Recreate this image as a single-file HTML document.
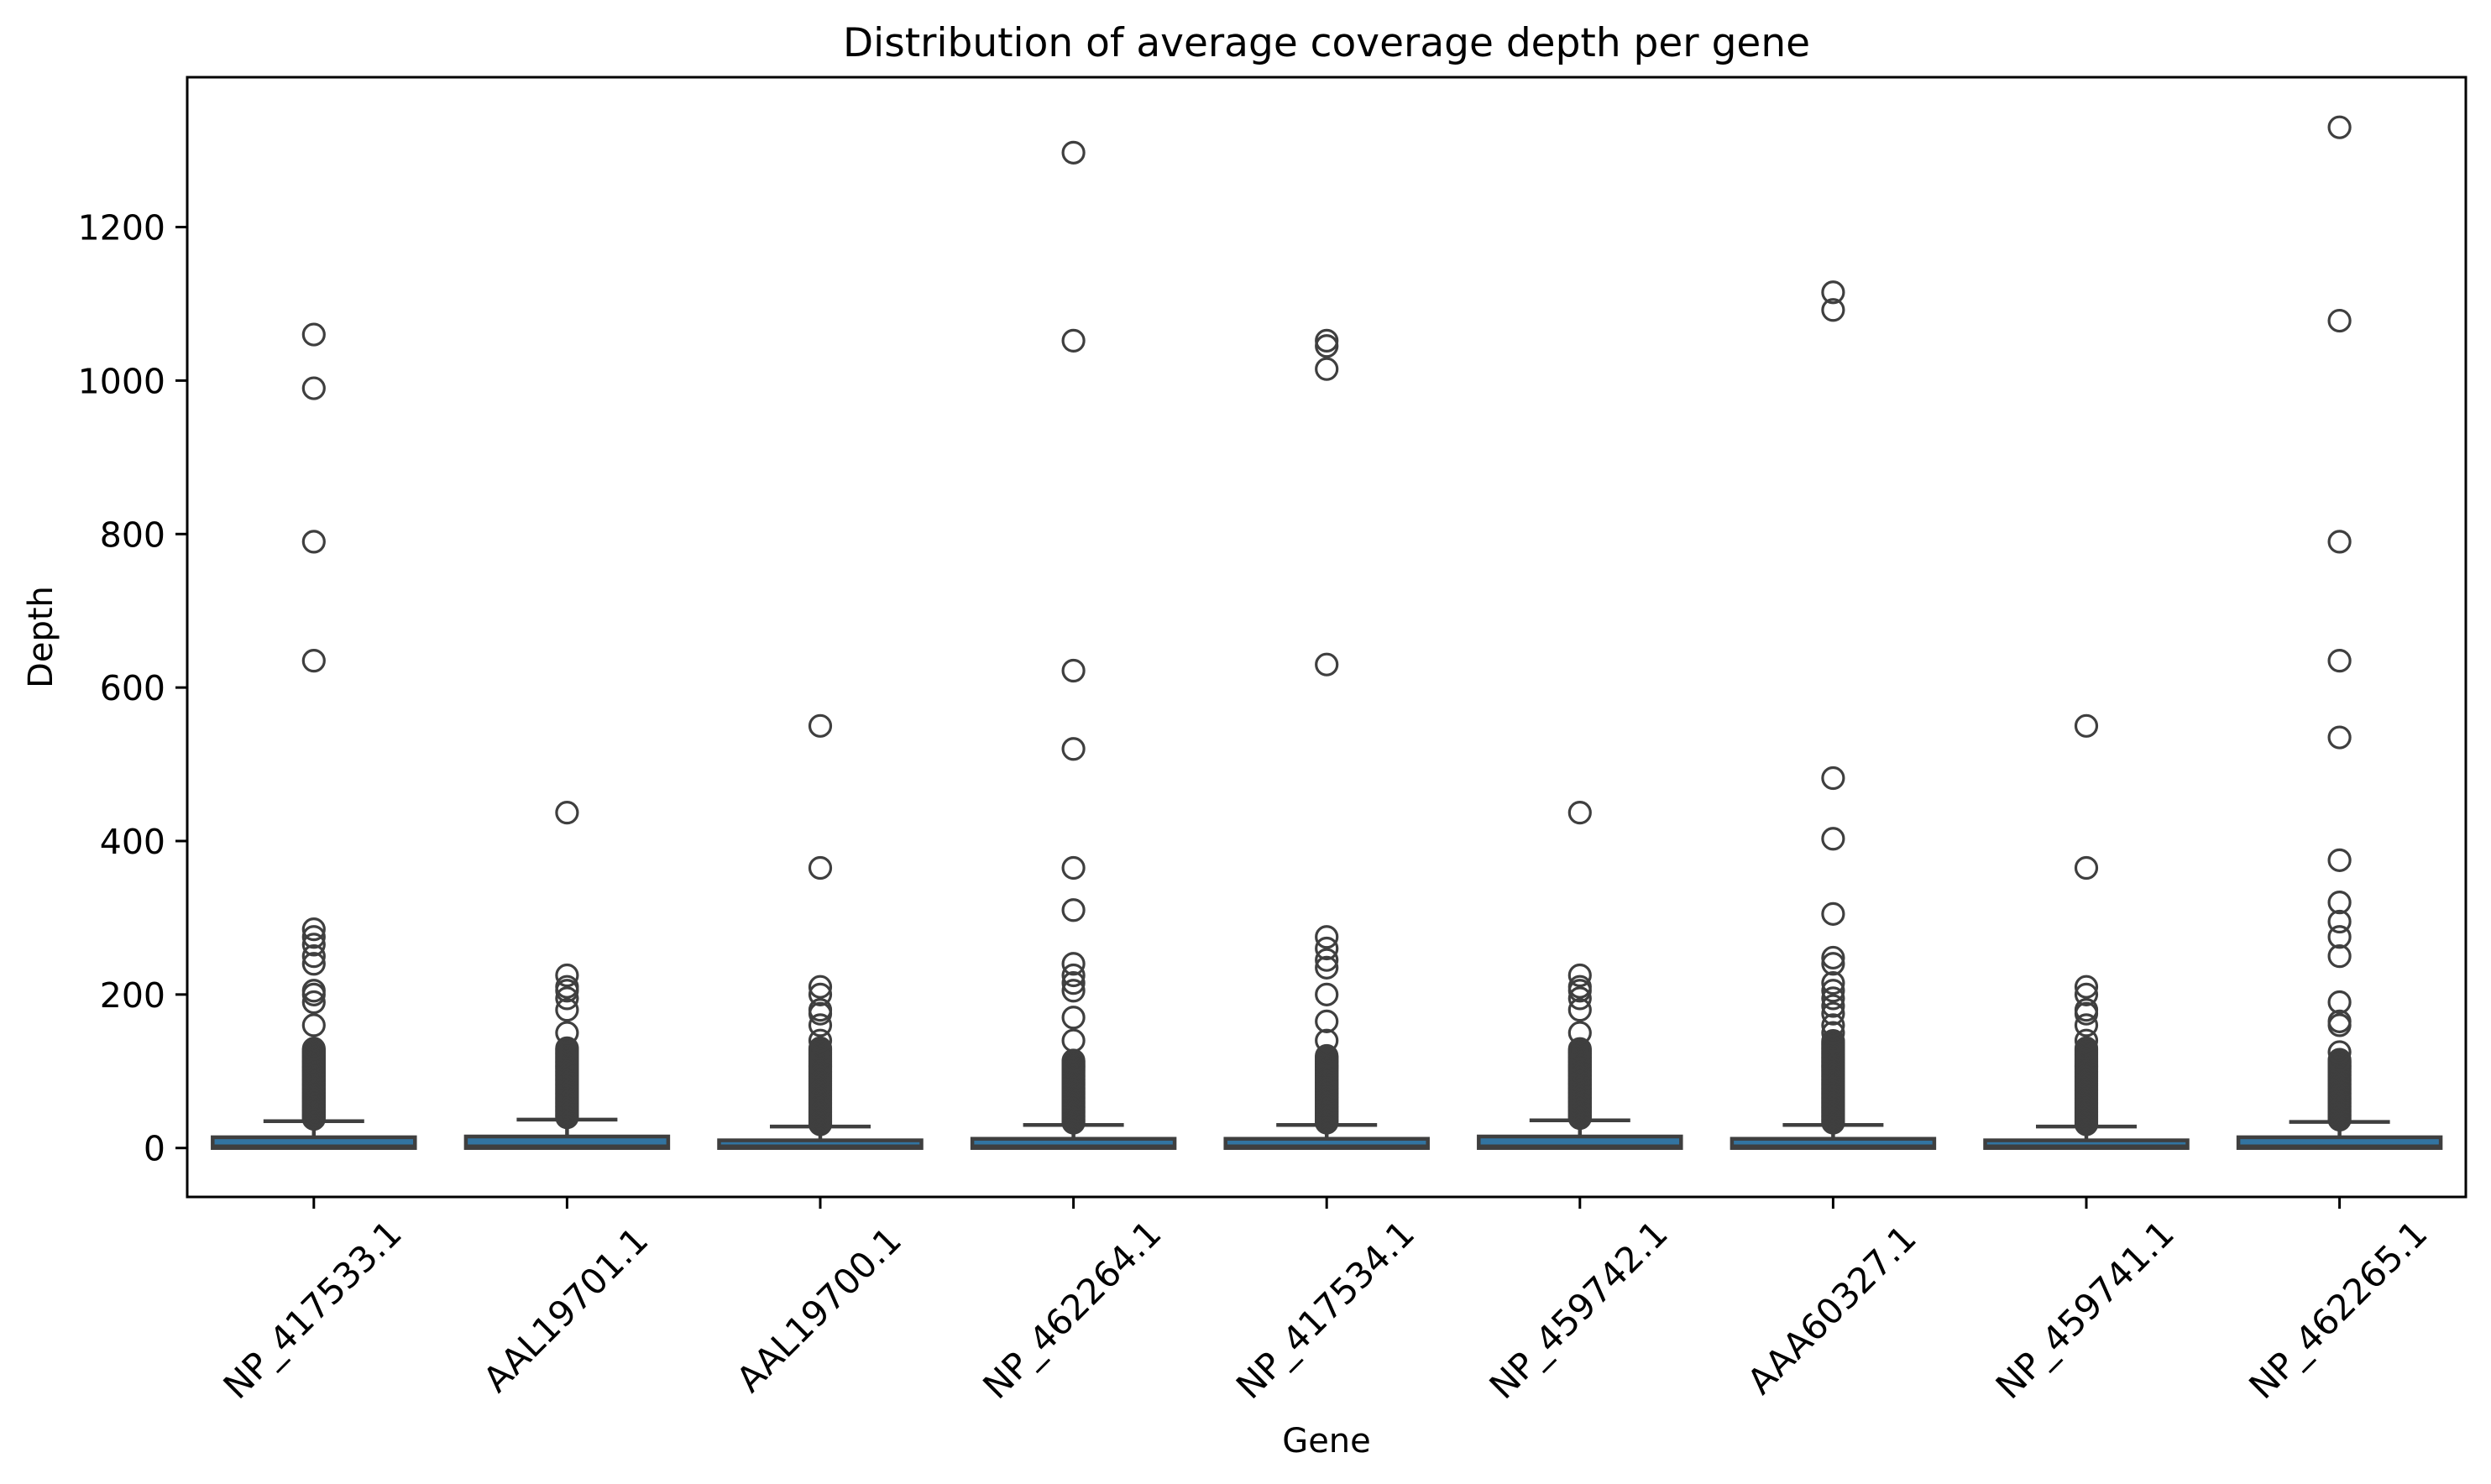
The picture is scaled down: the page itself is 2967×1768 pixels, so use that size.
<!DOCTYPE html>
<html><head><meta charset="utf-8"><style>
html,body{margin:0;padding:0;background:#fff}
svg{display:block}
text{font-family:"DejaVu Sans","Liberation Sans",sans-serif;fill:#000}
</style></head><body>
<svg id="s" width="2967" height="1768" viewBox="0 0 2967 1768" xmlns="http://www.w3.org/2000/svg">
<rect width="2967" height="1768" fill="#fff"/>
<g id="data"></g>
<rect x="223" y="92" width="2714" height="1334" fill="none" stroke="#000" stroke-width="3"/>
<g id="yt" font-size="41" text-anchor="end"></g>
<g id="xt" font-size="42"></g>
<text x="1580" y="67" font-size="47" text-anchor="middle">Distribution of average coverage depth per gene</text>
<text x="1580" y="1730" font-size="40" text-anchor="middle">Gene</text>
<text transform="translate(62,759) rotate(-90)" font-size="40" text-anchor="middle">Depth</text>
</svg>
<script>
var NS="http://www.w3.org/2000/svg";
function Y(v){return 1367.7-v*0.9143;}
function el(p,t,a){var e=document.createElementNS(NS,t);for(var k in a)e.setAttribute(k,a[k]);p.appendChild(e);return e;}
var yt=document.getElementById('yt');
[0,200,400,600,800,1000,1200].forEach(function(v){
 var y=Y(v);
 el(yt,'line',{x1:209,x2:223,y1:y,y2:y,stroke:'#000','stroke-width':3});
 var t=el(yt,'text',{x:197,y:y+15});t.textContent=v;
});
var names=["NP_417533.1","AAL19701.1","AAL19700.1","NP_462264.1","NP_417534.1","NP_459742.1","AAA60327.1","NP_459741.1","NP_462265.1"];
var boxes=[
 [14,35,130,[160,190,200,205,240,250,265,275,285,635,790,990,1060]],
 [15,37,130,[150,180,195,205,210,225,437]],
 [10,28,130,[140,160,175,180,200,210,365,550]],
 [12,30,115,[140,170,205,215,225,240,310,365,520,622,1052,1297]],
 [12,30,120,[140,165,200,235,245,260,275,630,1015,1045,1052]],
 [15,36,130,[150,180,195,205,210,225,437]],
 [12,30,140,[150,160,175,185,195,205,215,240,248,305,403,482,1092,1115]],
 [10,28,130,[140,160,175,180,200,210,365,550]],
 [14,34,115,[125,160,165,190,250,275,295,320,375,535,635,790,1078,1330]]
];
var d=document.getElementById('data'),xt=document.getElementById('xt');
for(var i=0;i<9;i++){
 var cx=223+150.8+i*301.6,b=boxes[i];
 el(xt,'line',{x1:cx,x2:cx,y1:1426,y2:1440,stroke:'#000','stroke-width':3});
 var t=el(xt,'text',{transform:'translate('+(cx-2)+',1560) rotate(-45)','text-anchor':'middle',y:15});t.textContent=names[i];
 el(d,'line',{x1:cx,x2:cx,y1:Y(b[0]),y2:Y(b[1]),stroke:'#3f3f3f','stroke-width':4.5});
 el(d,'line',{x1:cx-60,x2:cx+60,y1:Y(b[1]),y2:Y(b[1]),stroke:'#3f3f3f','stroke-width':4.5});
 for(var v=b[1]+3;v<=b[2];v+=1.5) el(d,'circle',{cx:cx,cy:Y(v),r:12.5,fill:'none',stroke:'#3f3f3f','stroke-width':3.2});
 b[3].forEach(function(v){el(d,'circle',{cx:cx,cy:Y(v),r:12.5,fill:'none',stroke:'#3f3f3f','stroke-width':3.2});});
 el(d,'rect',{x:cx-120.5,y:Y(b[0]),width:241,height:Y(0)-Y(b[0]),fill:'#3274a1',stroke:'#3f3f3f','stroke-width':4.5});
 el(d,'line',{x1:cx-120.5,x2:cx+120.5,y1:Y(3),y2:Y(3),stroke:'#3f3f3f','stroke-width':3});
}
</script>
</body></html>
